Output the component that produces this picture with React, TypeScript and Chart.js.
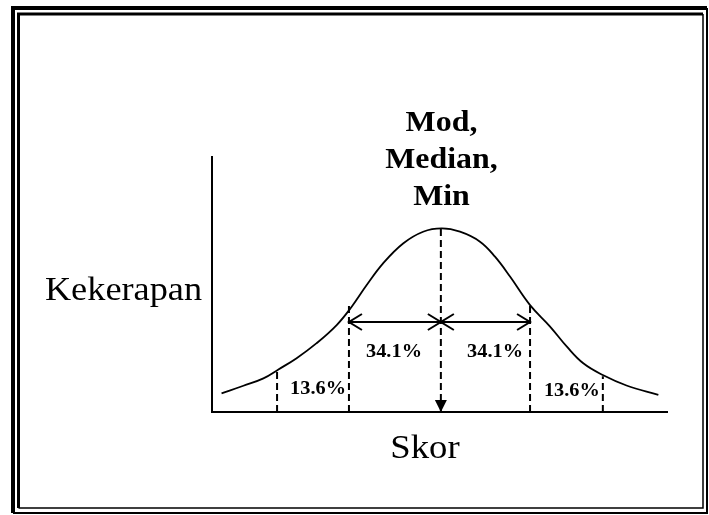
import React, { useEffect, useRef } from "react";
import { Chart, registerables } from "chart.js";

Chart.register(...registerables);

// Curve (x: score axis 0..100, y: frequency 0..100)
const curveX = [2.1, 6.9, 11.3, 14.6, 18.6, 23.0, 27.4, 30.7, 34.0, 37.6, 42.0, 46.4, 50.5, 54.5, 58.9, 62.2, 65.5, 69.9, 74.3, 78.0, 81.6, 86.0, 91.1, 98.1];
const curveY = [7.3, 10.3, 13.2, 16.7, 21.1, 27.0, 34.1, 41.3, 49.8, 58.3, 66.1, 70.7, 72.0, 70.7, 66.8, 60.9, 53.1, 41.9, 33.5, 25.6, 19.1, 14.4, 10.4, 6.7];

// Dashed dividers (x position and height where they meet the curve)
const dividerX = [14.3, 30.1, 50.3, 69.9, 85.9];
const dividerTop = [17.0, 41.6, 72.0, 41.9, 14.0];

// Horizontal double arrows
const arrowY = 35.3;
const arrowStart = 30.1;
const arrowMid = 50.3;
const arrowEnd = 69.9;

// Percentage labels
const pctText = ["13.6%", "34.1%", "34.1%", "13.6%"];
const pctX = [23.3, 40.0, 62.2, 79.1];
const pctY = [8.8, 23.5, 23.5, 8.2];

const yTitle = "Kekerapan";
const xTitle = "Skor";
const peakLines = ["Mod,", "Median,", "Min"];

const SERIF = '"Liberation Serif", "Times New Roman", "DejaVu Serif", serif';

function drawText(ctx: CanvasRenderingContext2D, s: string, x: number, y: number, font: string, sx: number, baseline: CanvasTextBaseline = "alphabetic") {
  ctx.save();
  ctx.translate(x, y);
  ctx.scale(sx, 1);
  ctx.font = font;
  ctx.fillStyle = "#000";
  ctx.textAlign = "center";
  ctx.textBaseline = baseline;
  ctx.fillText(s, 0, 0);
  ctx.restore();
}

const framePlugin = {
  id: "frame",
  beforeDraw(chart: any) {
    const ctx: CanvasRenderingContext2D = chart.ctx;
    const w = chart.width;
    const h = chart.height;
    ctx.save();
    ctx.fillStyle = "#fff";
    ctx.fillRect(0, 0, w, h);
    ctx.strokeStyle = "#000";
    // outer frame
    ctx.lineWidth = 4;
    ctx.beginPath();
    ctx.moveTo(13, 513);
    ctx.lineTo(13, 8);
    ctx.lineTo(707, 8);
    ctx.stroke();
    ctx.lineWidth = 2;
    ctx.beginPath();
    ctx.moveTo(707, 8);
    ctx.lineTo(707, 513);
    ctx.lineTo(13, 513);
    ctx.stroke();
    // inner frame
    ctx.lineWidth = 3;
    ctx.beginPath();
    ctx.moveTo(18.5, 508);
    ctx.lineTo(18.5, 14);
    ctx.lineTo(703, 14);
    ctx.stroke();
    ctx.lineWidth = 1.5;
    ctx.beginPath();
    ctx.moveTo(703, 14);
    ctx.lineTo(703, 508);
    ctx.lineTo(18.5, 508);
    ctx.stroke();
    ctx.restore();
  },
  afterDraw(chart: any) {
    const ctx: CanvasRenderingContext2D = chart.ctx;
    const xs = chart.scales.x;
    const ys = chart.scales.y;
    ctx.save();
    ctx.strokeStyle = "#000";
    ctx.fillStyle = "#000";
    ctx.lineWidth = 2;
    ctx.setLineDash([]);
    const ay = ys.getPixelForValue(arrowY);
    const pS = xs.getPixelForValue(arrowStart);
    const pM = xs.getPixelForValue(arrowMid);
    const pE = xs.getPixelForValue(arrowEnd);
    const head = (tipX: number, dir: number) => {
      ctx.beginPath();
      ctx.moveTo(tipX + dir * 13, ay - 8);
      ctx.lineTo(tipX, ay);
      ctx.lineTo(tipX + dir * 13, ay + 8);
      ctx.stroke();
    };
    head(pS, 1);
    head(pM, -1);
    head(pM, 1);
    head(pE, -1);
    // down arrow head at the mean
    const by = ys.getPixelForValue(0);
    ctx.beginPath();
    ctx.moveTo(pM, by);
    ctx.lineTo(pM - 6, by - 12);
    ctx.lineTo(pM + 6, by - 12);
    ctx.closePath();
    ctx.fill();
    ctx.restore();

    // percentage labels
    for (let i = 0; i < pctText.length; i++) {
      drawText(ctx, pctText[i], xs.getPixelForValue(pctX[i]), ys.getPixelForValue(pctY[i]), `bold 18px ${SERIF}`, 1.13, "middle");
    }
    // titles
    drawText(ctx, yTitle, 123.5, 300, `33px ${SERIF}`, 1.1);
    drawText(ctx, xTitle, 425, 458, `34px ${SERIF}`, 1.08);
    const base = [131, 168, 205];
    for (let i = 0; i < peakLines.length; i++) {
      drawText(ctx, peakLines[i], 441.5, base[i], `bold 29px ${SERIF}`, 1.1);
    }
  },
};

export default function App() {
  const ref = useRef<HTMLCanvasElement | null>(null);
  useEffect(() => {
    if (!ref.current) return;
    const datasets: any[] = [
      {
        data: curveX.map((x, i) => ({ x, y: curveY[i] })),
        borderColor: "#000",
        borderWidth: 1.8,
        pointRadius: 0,
        tension: 0.4,
        fill: false,
      },
    ];
    dividerX.forEach((x, i) => {
      datasets.push({
        data: [
          { x, y: 0 },
          { x, y: dividerTop[i] },
        ],
        borderColor: "#000",
        borderWidth: 2,
        borderDash: [7, 4],
        pointRadius: 0,
        fill: false,
      });
    });
    datasets.push({
      data: [
        { x: arrowStart, y: arrowY },
        { x: arrowEnd, y: arrowY },
      ],
      borderColor: "#000",
      borderWidth: 2,
      pointRadius: 0,
      fill: false,
    });
    const chart = new Chart(ref.current, {
      type: "line",
      data: { datasets },
      options: {
        responsive: false,
        animation: false,
        layout: { padding: { left: 212, top: 157, right: 42, bottom: 103 } },
        plugins: { legend: { display: false }, tooltip: { enabled: false } },
        scales: {
          x: {
            type: "linear",
            min: 0,
            max: 100,
            ticks: { display: false },
            grid: { display: false, drawTicks: false },
            border: { display: true, color: "#000", width: 2 },
          },
          y: {
            type: "linear",
            min: 0,
            max: 100,
            ticks: { display: false },
            grid: { display: false, drawTicks: false },
            border: { display: true, color: "#000", width: 2 },
          },
        },
      },
      plugins: [framePlugin],
    });
    return () => chart.destroy();
  }, []);
  return (
    <div style={{ position: "absolute", left: 0, top: 0, width: 709, height: 515, background: "#fff" }}>
      <canvas ref={ref} width={709} height={515} style={{ display: "block" }} />
    </div>
  );
}
